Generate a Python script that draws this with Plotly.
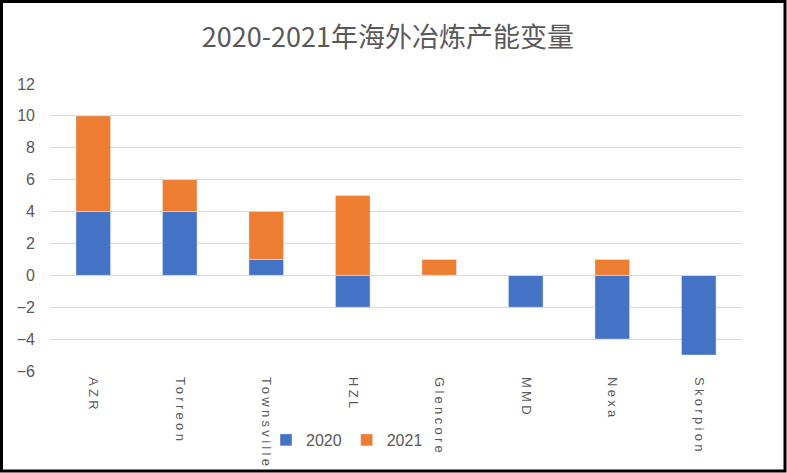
import plotly.graph_objects as go

categories = ["AZR", "Torreon", "Townsville", "HZL", "Glencore", "MMD", "Nexa", "Skorpion"]
values_2020 = [4, 4, 1, -2, 0, -2, -4, -5]
values_2021 = [6, 2, 3, 5, 1, 0, 1, 0]
y_ticks = [-6, -4, -2, 0, 2, 4, 6, 8, 10, 12]

fig = go.Figure()
fig.add_trace(go.Bar(name="2020", x=categories, y=values_2020, marker_color="#4472C4"))
fig.add_trace(go.Bar(name="2021", x=categories, y=values_2021, marker_color="#ED7D31"))

W, H = 787, 473
L, R, T, B = 50, 45, 84, 102
pw, ph = W - L - R, H - T - B

def px_x(p):
    return (p - L) / pw

def px_y(p):
    return (H - B - p) / ph

fig.update_layout(
    width=W, height=H,
    barmode="relative",
    bargap=0.6,
    plot_bgcolor="white",
    paper_bgcolor="white",
    margin=dict(l=L, r=R, t=T, b=B, autoexpand=False),
    title=dict(text="2020-2021年海外冶炼产能变量", x=px_x(391), xanchor="center",
               y=1 - 38 / H, yanchor="middle",
               font=dict(family="Noto Sans CJK SC", size=27, color="#595959")),
    font=dict(family="Liberation Sans, Arial", color="#595959", size=13),
    legend=dict(orientation="h", x=px_x(347), xanchor="center", y=px_y(440), yanchor="middle",
                font=dict(size=16, color="#595959"), itemwidth=30, bgcolor="rgba(0,0,0,0)"),
    xaxis=dict(tickangle=90, showgrid=False, showline=False, ticks="",
               ticklabelstandoff=5,
               tickfont=dict(size=13, color="#595959")),
    yaxis=dict(range=[-6, 12], tickvals=y_ticks, showgrid=True, gridcolor="#D9D9D9",
               gridwidth=1, zeroline=False, ticks="", showline=False,
               ticklabelstandoff=14,
               tickfont=dict(size=16, color="#595959")),
    shapes=[dict(type="rect", xref="paper", yref="paper",
                 x0=px_x(1.5), x1=px_x(785), y0=px_y(471), y1=px_y(1.5),
                 line=dict(color="black", width=3), fillcolor="rgba(0,0,0,0)", layer="above")],
)

post = (
    "document.body.style.margin='0';document.body.style.overflow='hidden';"
    "var s=document.createElement('style');"
    "s.textContent='.xtick text{letter-spacing:3.3px}';"
    "document.head.appendChild(s);"
)
fig.write_html("out.html", config={"displayModeBar": False}, post_script=post)
